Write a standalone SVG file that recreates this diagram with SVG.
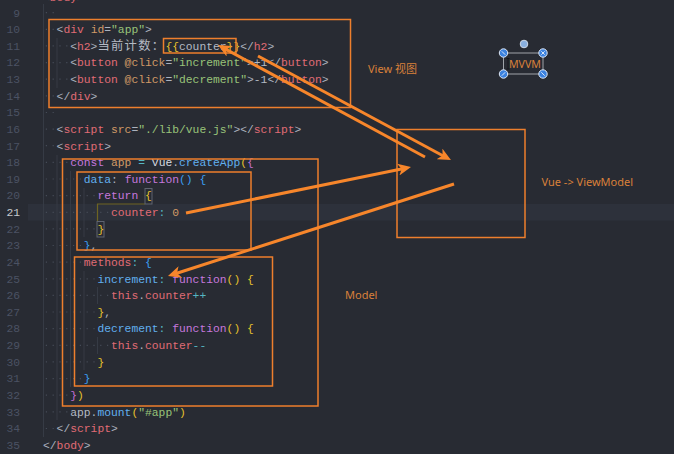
<svg xmlns="http://www.w3.org/2000/svg" width="674" height="454" viewBox="0 0 674 454">
<style>
.bg{fill:#282b33}
.band{fill:#2d313b}
.ln{font-family:"Liberation Mono","DejaVu Sans Mono",monospace;font-size:11.33px;fill:#4b5263;text-anchor:end}
.lna{fill:#c5c8ce}
.code{font-family:"Liberation Mono","DejaVu Sans Mono","Noto Sans CJK SC",monospace;font-size:11.33px;fill:#abb2bf}
.cjk{font-family:"Noto Sans CJK SC","Liberation Mono",sans-serif;font-size:12.3px}
.pu{fill:#abb2bf}.tg{fill:#e06c75}.at{fill:#d19a66}.st{fill:#98c379}.tx{fill:#b4bac4}
.kw{fill:#c678dd}.fn{fill:#61afef}.op{fill:#56b6c2}.nm{fill:#d19a66}.vr{fill:#e06c75}
.b1{fill:#e6c22c}.b2{fill:#c46fd4}.b3{fill:#3b9ff2}.cl{fill:#d7dae0}
.ws{stroke:#454b57;stroke-width:1.2;stroke-dasharray:1.2 5.6}
.ig{stroke:#363b45;stroke-width:1;fill:none}
.box{fill:none;stroke:#ee7f2d;stroke-width:1.5}
.arr{stroke:#f7862b;stroke-width:3;fill:none;marker-end:url(#ah)}
.lbl{font-family:"Noto Sans","Noto Sans CJK SC",sans-serif;font-size:11px;fill:#d9803a}
.hd{fill:#3b82e0;stroke:#dfe8f5;stroke-width:1}
</style>
<defs>
<marker id="ah" markerUnits="userSpaceOnUse" markerWidth="14" markerHeight="12" refX="7" refY="6" orient="auto">
<path d="M0,0 L13,6 L0,12 L3.5,6 z" fill="#f7862b"/>
</marker>
</defs>
<rect class="bg" x="0" y="0" width="674" height="454"/>
<rect class="band" x="28" y="204" width="646" height="16.6"/>

<g id="gutter">
<text class="ln" x="20" y="-0.1">8</text>
<text class="ln" x="20" y="16.5">9</text>
<text class="ln" x="20" y="33.13">10</text>
<text class="ln" x="20" y="49.76">11</text>
<text class="ln" x="20" y="66.39">12</text>
<text class="ln" x="20" y="83.02">13</text>
<text class="ln" x="20" y="99.65">14</text>
<text class="ln" x="20" y="116.28">15</text>
<text class="ln" x="20" y="132.91">16</text>
<text class="ln" x="20" y="149.54">17</text>
<text class="ln" x="20" y="166.17">18</text>
<text class="ln" x="20" y="182.8">19</text>
<text class="ln" x="20" y="199.43">20</text>
<text class="ln lna" x="20" y="216.06">21</text>
<text class="ln" x="20" y="232.69">22</text>
<text class="ln" x="20" y="249.32">23</text>
<text class="ln" x="20" y="265.95">24</text>
<text class="ln" x="20" y="282.58">25</text>
<text class="ln" x="20" y="299.21">26</text>
<text class="ln" x="20" y="315.84">27</text>
<text class="ln" x="20" y="332.47">28</text>
<text class="ln" x="20" y="349.1">29</text>
<text class="ln" x="20" y="365.73">30</text>
<text class="ln" x="20" y="382.36">31</text>
<text class="ln" x="20" y="398.99">32</text>
<text class="ln" x="20" y="415.62">33</text>
<text class="ln" x="20" y="432.25">34</text>
<text class="ln" x="20" y="448.88">35</text>
</g>

<g id="guides">
<path class="ig" d="M43.5 4 V437 M57 38 V88 M57 155 V420 M70.5 171 V387 M84 188 V237 M84 271 V370 M97.5 287 V304 M97.5 337 V354"/>
<path d="M145 204 H97.5 V221" fill="none" stroke="#6e6422" stroke-width="1.2"/>
<rect x="145" y="188.5" width="7" height="15.5" fill="none" stroke="#5f6470" stroke-width="1"/>
<rect x="97" y="221.5" width="7" height="15.5" fill="none" stroke="#5f6470" stroke-width="1"/>
<g>
<line class="ws" x1="45.8" y1="12.7" x2="56.6" y2="12.7"/>
<line class="ws" x1="45.8" y1="29.3" x2="56.6" y2="29.3"/>
<line class="ws" x1="45.8" y1="45.9" x2="70.2" y2="45.9"/>
<line class="ws" x1="45.8" y1="62.6" x2="70.2" y2="62.6"/>
<line class="ws" x1="45.8" y1="79.2" x2="70.2" y2="79.2"/>
<line class="ws" x1="45.8" y1="95.8" x2="56.6" y2="95.8"/>
<line class="ws" x1="45.8" y1="112.5" x2="56.6" y2="112.5"/>
<line class="ws" x1="45.8" y1="129.1" x2="56.6" y2="129.1"/>
<line class="ws" x1="45.8" y1="145.7" x2="56.6" y2="145.7"/>
<line class="ws" x1="45.8" y1="162.4" x2="70.2" y2="162.4"/>
<line class="ws" x1="45.8" y1="179" x2="83.8" y2="179"/>
<line class="ws" x1="45.8" y1="195.6" x2="97.4" y2="195.6"/>
<line class="ws" x1="45.8" y1="212.3" x2="111" y2="212.3"/>
<line class="ws" x1="45.8" y1="228.9" x2="97.4" y2="228.9"/>
<line class="ws" x1="45.8" y1="245.5" x2="83.8" y2="245.5"/>
<line class="ws" x1="45.8" y1="262.2" x2="83.8" y2="262.2"/>
<line class="ws" x1="45.8" y1="278.8" x2="97.4" y2="278.8"/>
<line class="ws" x1="45.8" y1="295.4" x2="111" y2="295.4"/>
<line class="ws" x1="45.8" y1="312" x2="97.4" y2="312"/>
<line class="ws" x1="45.8" y1="328.7" x2="97.4" y2="328.7"/>
<line class="ws" x1="45.8" y1="345.3" x2="111" y2="345.3"/>
<line class="ws" x1="45.8" y1="361.9" x2="97.4" y2="361.9"/>
<line class="ws" x1="45.8" y1="378.6" x2="83.8" y2="378.6"/>
<line class="ws" x1="45.8" y1="395.2" x2="70.2" y2="395.2"/>
<line class="ws" x1="45.8" y1="411.8" x2="70.2" y2="411.8"/>
<line class="ws" x1="45.8" y1="428.5" x2="56.6" y2="428.5"/>
</g>
</g>

<g id="code">
<text class="code" xml:space="preserve" x="43" y="0.5"><tspan class="pu">&lt;</tspan><tspan class="tg">body</tspan><tspan class="pu">&gt;</tspan></text>
<text class="code" xml:space="preserve" x="56.6" y="33.13"><tspan class="pu">&lt;</tspan><tspan class="tg">div</tspan> <tspan class="at">id</tspan><tspan class="pu">=</tspan><tspan class="st">"app"</tspan><tspan class="pu">&gt;</tspan></text>
<text class="code" xml:space="preserve" x="70.2" y="49.76"><tspan class="pu">&lt;</tspan><tspan class="tg">h2</tspan><tspan class="pu">&gt;</tspan><tspan class="tx cjk" x="97.4 111 124.6 138.2 151.8">当前计数：</tspan><tspan class="b1" x="165.4">{{</tspan><tspan class="tx">counter</tspan><tspan class="b1">}}</tspan><tspan class="pu">&lt;/</tspan><tspan class="tg">h2</tspan><tspan class="pu">&gt;</tspan></text>
<text class="code" xml:space="preserve" x="70.2" y="66.39"><tspan class="pu">&lt;</tspan><tspan class="tg">button</tspan> <tspan class="at">@click</tspan><tspan class="pu">=</tspan><tspan class="st">"increment"</tspan><tspan class="pu">&gt;</tspan><tspan class="tx">+1</tspan><tspan class="pu">&lt;/</tspan><tspan class="tg">button</tspan><tspan class="pu">&gt;</tspan></text>
<text class="code" xml:space="preserve" x="70.2" y="83.02"><tspan class="pu">&lt;</tspan><tspan class="tg">button</tspan> <tspan class="at">@click</tspan><tspan class="pu">=</tspan><tspan class="st">"decrement"</tspan><tspan class="pu">&gt;</tspan><tspan class="tx">-1</tspan><tspan class="pu">&lt;/</tspan><tspan class="tg">button</tspan><tspan class="pu">&gt;</tspan></text>
<text class="code" xml:space="preserve" x="56.6" y="99.65"><tspan class="pu">&lt;/</tspan><tspan class="tg">div</tspan><tspan class="pu">&gt;</tspan></text>
<text class="code" xml:space="preserve" x="56.6" y="132.91"><tspan class="pu">&lt;</tspan><tspan class="tg">script</tspan> <tspan class="at">src</tspan><tspan class="pu">=</tspan><tspan class="st">"./lib/vue.js"</tspan><tspan class="pu">&gt;&lt;/</tspan><tspan class="tg">script</tspan><tspan class="pu">&gt;</tspan></text>
<text class="code" xml:space="preserve" x="56.6" y="149.54"><tspan class="pu">&lt;</tspan><tspan class="tg">script</tspan><tspan class="pu">&gt;</tspan></text>
<text class="code" xml:space="preserve" x="70.2" y="166.17"><tspan class="kw">const</tspan> <tspan class="at">app</tspan> <tspan class="op">=</tspan> <tspan class="cl">Vue</tspan><tspan class="pu">.</tspan><tspan class="fn">createApp</tspan><tspan class="b1">(</tspan><tspan class="b2">{</tspan></text>
<text class="code" xml:space="preserve" x="83.8" y="182.8"><tspan class="fn">data</tspan><tspan class="pu">:</tspan> <tspan class="kw">function</tspan><tspan class="b3">()</tspan> <tspan class="b3">{</tspan></text>
<text class="code" xml:space="preserve" x="97.4" y="199.43"><tspan class="kw">return</tspan> <tspan class="b1">{</tspan></text>
<text class="code" xml:space="preserve" x="111" y="216.06"><tspan class="vr">counter</tspan><tspan class="op">:</tspan> <tspan class="nm">0</tspan></text>
<text class="code" xml:space="preserve" x="97.4" y="232.69"><tspan class="b1">}</tspan></text>
<text class="code" xml:space="preserve" x="83.8" y="249.32"><tspan class="b3">}</tspan><tspan class="pu">,</tspan></text>
<text class="code" xml:space="preserve" x="83.8" y="265.95"><tspan class="vr">methods</tspan><tspan class="op">:</tspan> <tspan class="b3">{</tspan></text>
<text class="code" xml:space="preserve" x="97.4" y="282.58"><tspan class="fn">increment</tspan><tspan class="op">:</tspan> <tspan class="kw">function</tspan><tspan class="b1">()</tspan> <tspan class="b1">{</tspan></text>
<text class="code" xml:space="preserve" x="111" y="299.21"><tspan class="vr">this</tspan><tspan class="pu">.</tspan><tspan class="vr">counter</tspan><tspan class="op">++</tspan></text>
<text class="code" xml:space="preserve" x="97.4" y="315.84"><tspan class="b1">}</tspan><tspan class="pu">,</tspan></text>
<text class="code" xml:space="preserve" x="97.4" y="332.47"><tspan class="fn">decrement</tspan><tspan class="op">:</tspan> <tspan class="kw">function</tspan><tspan class="b1">()</tspan> <tspan class="b1">{</tspan></text>
<text class="code" xml:space="preserve" x="111" y="349.1"><tspan class="vr">this</tspan><tspan class="pu">.</tspan><tspan class="vr">counter</tspan><tspan class="op">--</tspan></text>
<text class="code" xml:space="preserve" x="97.4" y="365.73"><tspan class="b1">}</tspan></text>
<text class="code" xml:space="preserve" x="83.8" y="382.36"><tspan class="b3">}</tspan></text>
<text class="code" xml:space="preserve" x="70.2" y="398.99"><tspan class="b2">}</tspan><tspan class="b1">)</tspan></text>
<text class="code" xml:space="preserve" x="70.2" y="415.62"><tspan class="tx">app</tspan><tspan class="pu">.</tspan><tspan class="fn">mount</tspan><tspan class="b1">(</tspan><tspan class="st">"#app"</tspan><tspan class="b1">)</tspan></text>
<text class="code" xml:space="preserve" x="56.6" y="432.25"><tspan class="pu">&lt;/</tspan><tspan class="tg">script</tspan><tspan class="pu">&gt;</tspan></text>
<text class="code" xml:space="preserve" x="43" y="448.88"><tspan class="pu">&lt;/</tspan><tspan class="tg">body</tspan><tspan class="pu">&gt;</tspan></text>
</g>

<g id="view-box"><rect class="box" x="49" y="19.5" width="301.5" height="88"/></g>
<g id="counter-box"><rect class="box" x="163.5" y="38.5" width="72.5" height="14.5"/></g>
<g id="viewmodel-box"><rect class="box" x="397" y="129.5" width="128" height="108"/></g>
<g id="createapp-box"><rect class="box" x="62.5" y="159" width="255.5" height="247"/></g>
<g id="data-box"><rect class="box" x="77" y="172" width="174" height="78"/></g>
<g id="methods-box"><rect class="box" x="74.5" y="257" width="198" height="129"/></g>

<g id="label-view"><text class="lbl" x="368" y="73">View 视图</text></g>
<g id="label-viewmodel"><text class="lbl" x="541.5" y="186">Vue -&gt; ViewModel</text></g>
<g id="label-model"><text class="lbl" x="345" y="299">Model</text></g>

<g id="mvvm">
<rect x="503.5" y="53" width="39.5" height="21" fill="none" stroke="#a0a4aa" stroke-width="1"/>
<text x="509" y="68" font-family="Noto Sans, sans-serif" font-size="10.6" fill="#d9803a">MVVM</text>
<path d="M506.5 58.5 H509.5 M508 58.5 V69 M506.5 69 H509.5" stroke="#15171c" stroke-width="0.9" fill="none"/>
<circle cx="524" cy="44" r="3.8" fill="#8ab0e0" stroke="#cfd8e6" stroke-width="1"/>
<circle class="hd" cx="503.5" cy="53" r="4.2"/>
<circle class="hd" cx="543" cy="53" r="4.2"/>
<circle class="hd" cx="503.5" cy="74" r="4.2"/>
<circle class="hd" cx="543" cy="74" r="4.2"/>
<path d="M501.8 51.3 L505.2 54.7 M541.3 51.3 L544.7 54.7 M541.3 54.7 L544.7 51.3 M501.8 75.7 L505.2 72.3 M541.3 72.3 L544.7 75.7" stroke="#ffffff" stroke-width="0.8"/>
</g>

<g id="connectors">
<line class="arr" x1="186" y1="213" x2="405.1" y2="168.2"/>
<line class="arr" x1="454" y1="184" x2="173.7" y2="274.2"/>
<line class="arr" x1="258" y1="56" x2="445.7" y2="157.2"/>
<line class="arr" x1="425" y1="157" x2="223.3" y2="47.9"/>
</g>
</svg>
